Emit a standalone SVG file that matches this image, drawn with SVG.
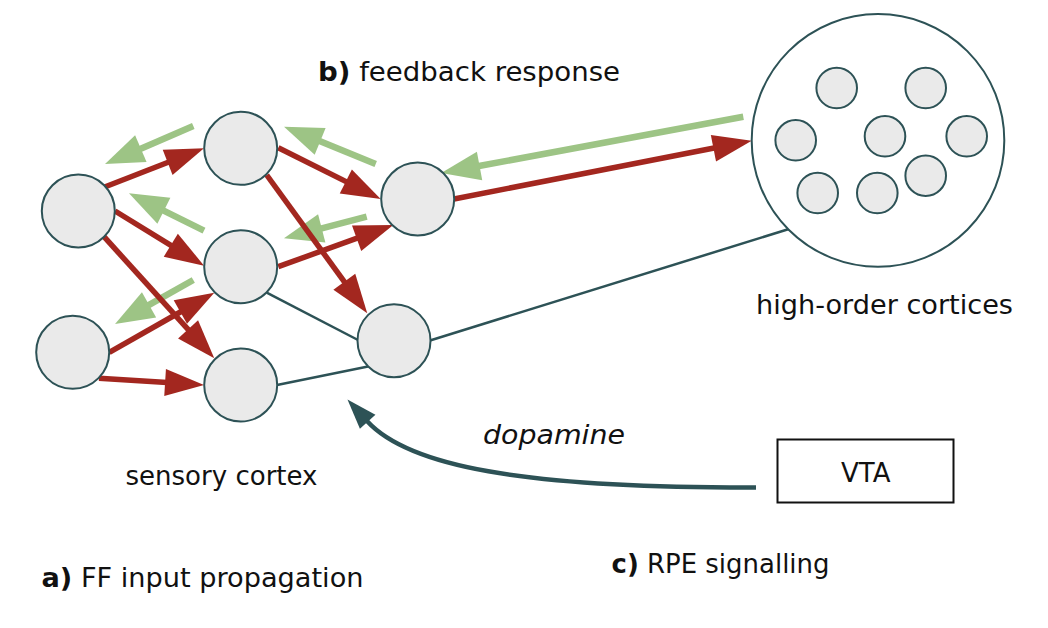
<svg xmlns="http://www.w3.org/2000/svg" width="1048" height="628" viewBox="0 0 1048 628">
<style>
.n{fill:#EAEAEA;stroke:#2D5256;stroke-width:2}
.big{fill:#FFFFFF;stroke:#2D5256;stroke-width:2}
.ff{stroke:#A3271F;stroke-width:5.5;fill:none;marker-end:url(#hr)}
.fb{stroke:#9DC485;stroke-width:6.5;fill:none;marker-end:url(#hg)}
.tl{stroke:#2D5256;stroke-width:2.5;fill:none}
.da{stroke:#2D5256;stroke-width:4.5;fill:none;marker-end:url(#hd)}
.t{font-family:"DejaVu Sans","Liberation Sans",sans-serif;font-size:26px;fill:#111}
.b{font-weight:bold}
</style>
<defs>
<marker id="hr" markerUnits="userSpaceOnUse" markerWidth="42" markerHeight="30" viewBox="0 -15 42 30" refX="2" refY="0" orient="auto" overflow="visible">
<path d="M0,-13.5 L39,0 L0,13.5 Z" fill="#A3271F"/>
</marker>
<marker id="hg" markerUnits="userSpaceOnUse" markerWidth="42" markerHeight="32" viewBox="0 -16 42 32" refX="2" refY="0" orient="auto" overflow="visible">
<path d="M0,-14.5 L39,0 L0,14.5 Z" fill="#9DC485"/>
</marker>
<marker id="hd" markerUnits="userSpaceOnUse" markerWidth="32" markerHeight="24" viewBox="0 -12 32 24" refX="1" refY="0" orient="auto" overflow="visible">
<path d="M0,-10.5 L30,0 L0,10.5 Z" fill="#2D5256"/>
</marker>
</defs>

<g id="connectors">
<line class="tl" x1="266.7" y1="292.7" x2="358" y2="340"/>
<line class="tl" x1="277" y1="385" x2="368" y2="366.5"/>
<line class="tl" x1="430" y1="340.5" x2="789" y2="229"/>
<line class="fb" x1="193.3" y1="126" x2="139" y2="149.4"/>
<line class="fb" x1="375.7" y1="164" x2="318.3" y2="140.6"/>
<line class="fb" x1="204" y1="230.7" x2="162.1" y2="209.8"/>
<line class="fb" x1="366.7" y1="216.7" x2="319.8" y2="228.9"/>
<line class="fb" x1="193.3" y1="280" x2="147.3" y2="305.9"/>
<line class="fb" x1="743.3" y1="116.7" x2="477.6" y2="166.3"/>
<line class="ff" x1="104" y1="187.3" x2="169.5" y2="161.7"/>
<line class="ff" x1="115" y1="211" x2="172.5" y2="246.3"/>
<line class="ff" x1="104" y1="236.7" x2="189.4" y2="330.9"/>
<line class="ff" x1="109.3" y1="352.3" x2="182.1" y2="311"/>
<line class="ff" x1="99" y1="378.3" x2="167.1" y2="382.6"/>
<line class="ff" x1="278.3" y1="147.7" x2="347.6" y2="182.4"/>
<line class="ff" x1="266.7" y1="175" x2="345.5" y2="283.4"/>
<line class="ff" x1="278.3" y1="266.7" x2="358.5" y2="237.6"/>
<line class="ff" x1="454" y1="199" x2="715.4" y2="147.8"/>
<path class="da" d="M756,487.5 C520,488 408,466 367,421"/>
</g>

<g id="sensory-cortex">
<circle id="nA" class="n" cx="78.3" cy="211" r="36.5"/>
<circle id="nD" class="n" cx="72.7" cy="352.3" r="36.5"/>
<circle id="nB" class="n" cx="240.7" cy="148.3" r="36.5"/>
<circle id="nC" class="n" cx="240.7" cy="266.7" r="36.5"/>
<circle id="nE" class="n" cx="240.7" cy="385" r="36.5"/>
<circle id="nF" class="n" cx="417.7" cy="199" r="36.5"/>
<circle id="nG" class="n" cx="394" cy="340.7" r="36.5"/>
</g>

<g id="high-order">
<circle class="big" cx="878" cy="140.4" r="126.3"/>
<circle class="n" cx="836.7" cy="88" r="20.3"/>
<circle class="n" cx="925.7" cy="88" r="20.3"/>
<circle class="n" cx="795.7" cy="140.3" r="20.3"/>
<circle class="n" cx="885" cy="136.3" r="20.3"/>
<circle class="n" cx="966.7" cy="136.3" r="20.3"/>
<circle class="n" cx="817.7" cy="193" r="20.3"/>
<circle class="n" cx="877.3" cy="193" r="20.3"/>
<circle class="n" cx="925.7" cy="175.7" r="20.3"/>
</g>

<g id="vta">
<rect x="777.5" y="439.5" width="176" height="63" fill="#FFFFFF" stroke="#111" stroke-width="2"/>
<text class="t" x="865.8" y="482" text-anchor="middle">VTA</text>
</g>

<g id="labels">
<text class="t" x="318" y="81" textLength="302" lengthAdjust="spacingAndGlyphs"><tspan class="b">b)</tspan> feedback response</text>
<text class="t" x="756" y="314" textLength="257" lengthAdjust="spacingAndGlyphs">high-order cortices</text>
<text class="t" x="125.5" y="485" textLength="192" lengthAdjust="spacingAndGlyphs">sensory cortex</text>
<text class="t" x="483" y="444" font-style="italic" textLength="142" lengthAdjust="spacingAndGlyphs">dopamine</text>
<text class="t" x="41.5" y="587" textLength="322" lengthAdjust="spacingAndGlyphs"><tspan class="b">a)</tspan> FF input propagation</text>
<text class="t" x="611.5" y="573" textLength="218" lengthAdjust="spacingAndGlyphs"><tspan class="b">c)</tspan> RPE signalling</text>
</g>
</svg>
